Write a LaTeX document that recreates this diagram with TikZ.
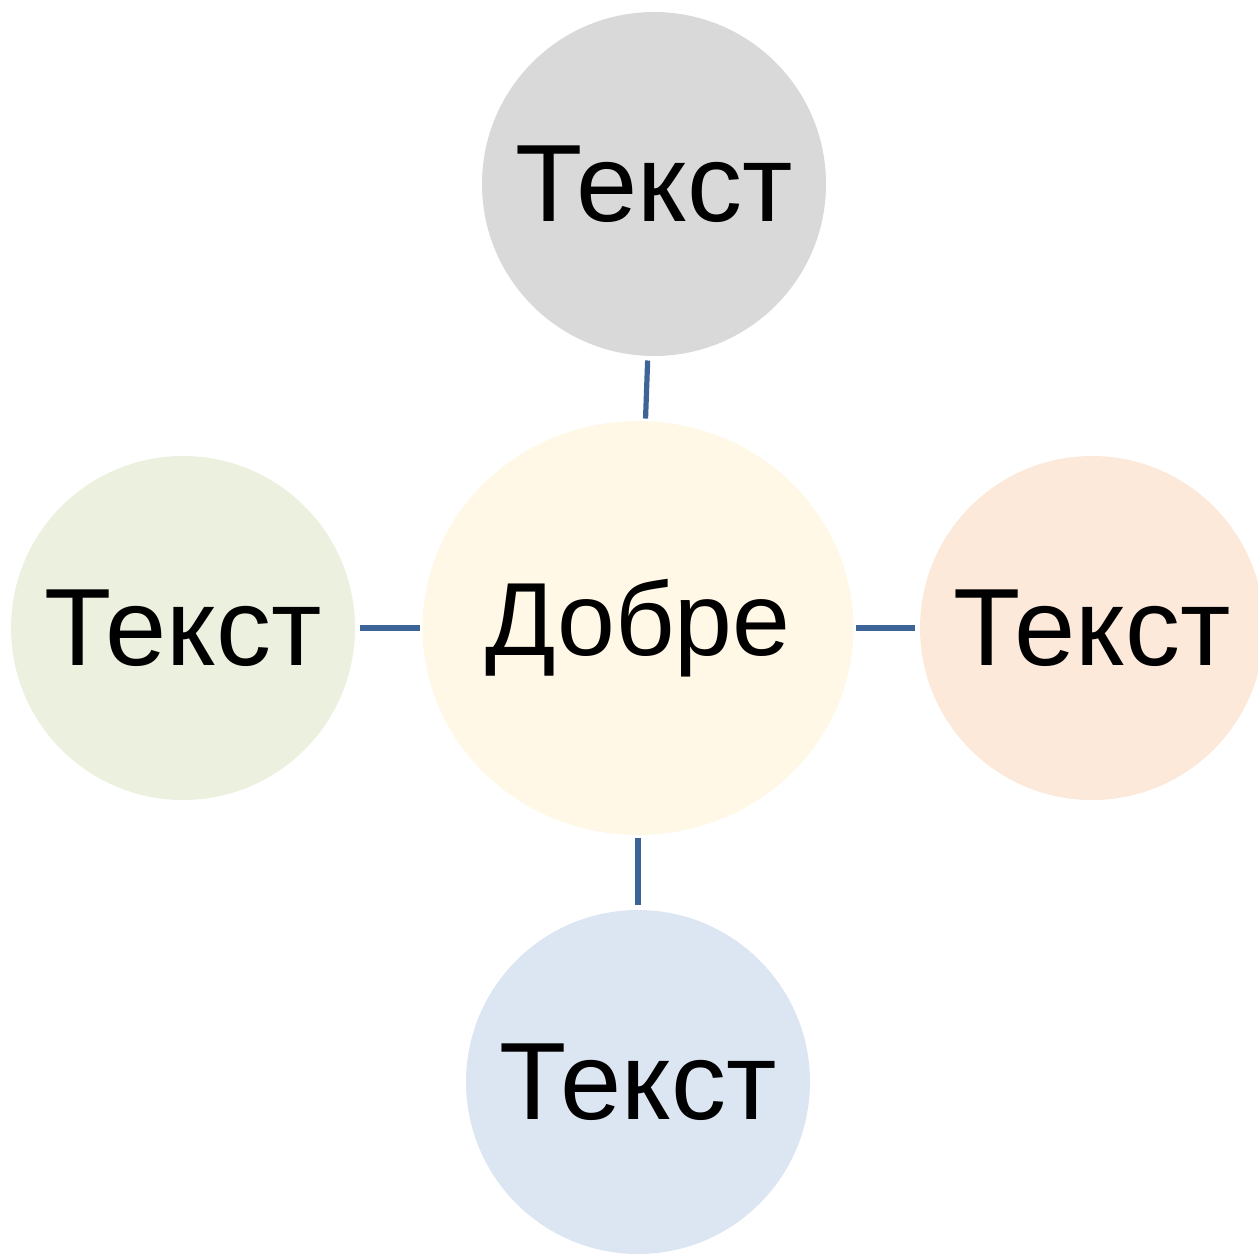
\documentclass[tikz,border=0pt]{standalone}
\usepackage{fontspec}
\setmainfont{Liberation Sans}
\usetikzlibrary{shapes.geometric}
\definecolor{linkblue}{RGB}{60,100,150}
\definecolor{hubfill}{RGB}{255,248,231}
\definecolor{topfill}{RGB}{217,217,217}
\definecolor{leftfill}{RGB}{235,241,222}
\definecolor{rightfill}{RGB}{252,233,218}
\definecolor{downfill}{RGB}{220,230,242}
\begin{document}
\begin{tikzpicture}[x=0.5pt, y=-0.5pt, semithick,
        bubble/.style={circle, minimum size=172pt, inner sep=0pt, font=\fontsize{55}{62}\selectfont},
        hub/.style={ellipse, minimum width=215pt, minimum height=207pt, inner sep=0pt, fill=hubfill, font=\fontsize{52}{60}\selectfont},
        link/.style={draw=linkblue, line width=2.6pt, shorten <=2pt, shorten >=1pt}]
                \useasboundingbox (0, 0) rectangle (1258, 1255);
                \node[hub] (hub) at (638, 628) {Добре};
                \node[bubble, fill=topfill] (top) at (654, 184) {Текст};
                \node[bubble, fill=leftfill] (left) at (183, 628) {Текст};
                \node[bubble, fill=rightfill] (right) at (1092, 628) {Текст};
                \node[bubble, fill=downfill] (down) at (638, 1082) {Текст};
                \draw[link] (top) -- (hub);
                \draw[link] (left) -- (hub);
                \draw[link] (right) -- (hub);
                \draw[link] (down) -- (hub);
            \end{tikzpicture}
\end{document}
